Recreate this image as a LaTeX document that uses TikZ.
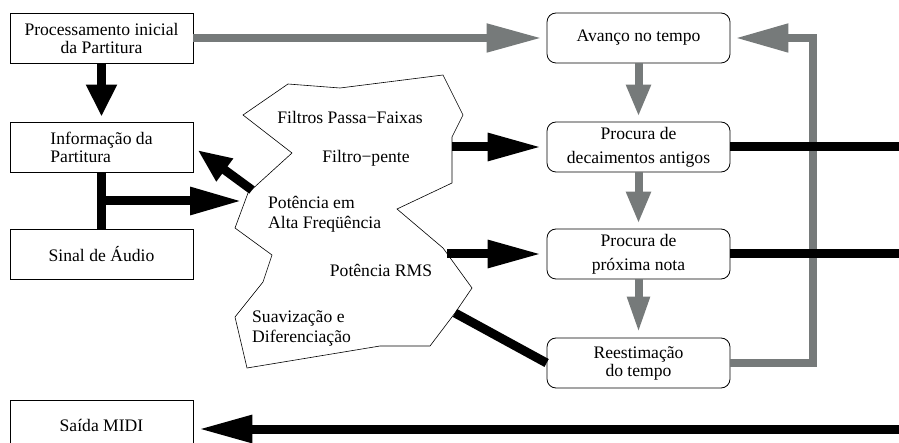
\documentclass[tikz,border=0pt]{standalone}
\usepackage{fontspec}
\setmainfont{Liberation Serif}
\newfontfamily\diagfont{Liberation Serif}
\usetikzlibrary{arrows.meta,positioning}

\begin{document}
\begin{tikzpicture}[x=1pt,y=-1pt,line join=miter]
  % Colors
  \definecolor{linkgray}{RGB}{118,122,122}

  % Styles
  \tikzstyle{box}=[draw,line width=0.8pt,minimum width=183pt,minimum height=50pt,inner sep=0pt,font=\diagfont\fontsize{17.6}{18}\selectfont,align=center]
  \tikzstyle{round box}=[box,rounded corners=9pt]
  \tikzstyle{label text}=[font=\diagfont\fontsize{17.6}{20}\selectfont,align=left,inner sep=0pt]
  \tikzstyle{black link}=[line width=9pt]
  \tikzstyle{gray link}=[line width=8pt,draw=linkgray]
  \tikzstyle{long head}=[-{Triangle[length=55pt,width=27pt]},shorten >=5pt]
  \tikzstyle{short head}=[-{Triangle[length=32pt,width=27pt]},shorten >=5pt]

  \useasboundingbox (0,0) rectangle (899,443);
  \clip (0,0) rectangle (899,443);

  % Left column
  \node[box] (proc) at (101.5,38) {Processamento inicial\\da Partitura};
  \node[box,align=left] (info) at (101.5,147) {Informação da\\Partitura};
  \node[box] (sinal) at (101.5,254) {Sinal de Áudio};
  \node[box] (midi) at (101.5,425) {\raisebox{-4pt}{Saída MIDI}};

  % Right column
  \node[round box] (avanco) at (638.5,38) {Avanço no tempo};
  \node[round box] (decai) at (638.5,147) {Procura de\\[6pt]decaimentos antigos};
  \node[round box] (proxima) at (638.5,254) {Procura de\\[6pt]próxima nota};
  \node[round box] (reest) at (638.5,363) {Reestimação\\do tempo};

  % The blob of signal processing
  \draw[line width=0.6pt] (243,115) -- (288,84) -- (340,88) -- (443,75) -- (463,115)
    -- (452,137) -- (452,183) -- (397,209) -- (443,248) -- (472,288) -- (455,313)
    -- (430,346) -- (380,346) -- (247,368) -- (235,317) -- (263,282) -- (272,255)
    -- (235,228) -- (248,193) -- (292,153) -- cycle;
  \node[label text] (bandas) at (350,117) {Filtros Passa−Faixas};
  \node[label text] (pente) at (366,158) {Filtro−pente};
  \node[label text,anchor=west] (alta) at (268,214) {Potência em\\Alta Freqüência};
  \node[label text] (rms) at (381,270) {Potência RMS};
  \node[label text,anchor=west] (suav) at (252,328) {Suavização e\\Diferenciação};

  \coordinate (blob in) at (247,201);
  \coordinate (blob back) at (252,190);
  \coordinate (filter out) at (452,147);
  \coordinate (rms out) at (447,254);
  \coordinate (smooth out) at (455,313);
  \coordinate (loop) at (813,38);
  \coordinate (out1) at (905,147);
  \coordinate (out2) at (905,254);
  \coordinate (out3) at (905,429);

  % Gray links (time control)
  \draw[gray link,long head] (proc.east) -- (avanco.west);
  \draw[gray link,short head,-{Triangle[length=32pt,width=23pt]}] (avanco) -- (decai);
  \draw[gray link,short head,-{Triangle[length=32pt,width=23pt]}] (decai) -- (proxima);
  \draw[gray link,short head,-{Triangle[length=36pt,width=21pt]}] (proxima) -- (reest);
  \draw[gray link,long head,-{Triangle[length=53pt,width=27pt]}] (reest.east) -| (loop) -- (avanco.east);

  % Black links
  \draw[black link,short head,-{Triangle[length=32pt,width=29pt]}] (proc) -- (info);
  \draw[black link] (info.south) -- (sinal.north);
  \draw[black link,long head,-{Triangle[length=52pt,width=26pt]}] (info.south |- blob in) -- (blob in);
  \draw[black link,short head,-{Triangle[length=34pt,width=26pt]}] (blob back) -- (info.east);
  \draw[black link,long head,-{Triangle[length=54pt,width=26pt]}] (filter out) -- (decai);
  \draw[black link,long head,-{Triangle[length=54pt,width=26pt]}] (rms out) -- (proxima);
  \draw[black link] (smooth out) -- (reest.west);
  \draw[black link] (decai.east) -- (out1);
  \draw[black link] (proxima.east) -- (out2);
  \draw[black link,long head,-{Triangle[length=54pt,width=26pt]}] (out3) -- (midi.east |- out3);

\end{tikzpicture}
\end{document}
